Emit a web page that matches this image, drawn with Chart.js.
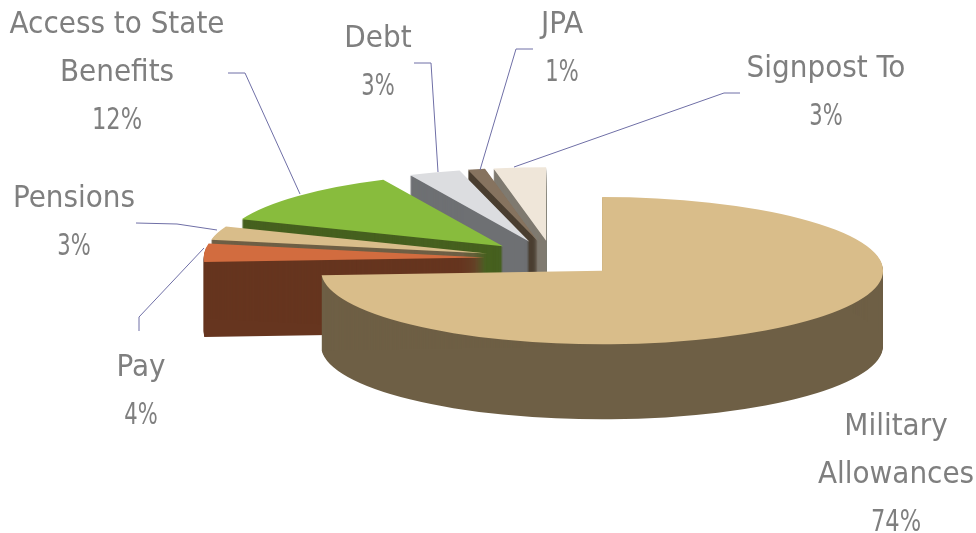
<!DOCTYPE html>
<html>
<head>
<meta charset="utf-8">
<title>Casework by category</title>
<style>
  html, body { margin: 0; padding: 0; background: #fff; }
  canvas { display: block; }
</style>
<script src="https://cdn.jsdelivr.net/npm/chart.js@4"></script>
</head>
<body>
<canvas id="casePie" width="976" height="533"></canvas>
<script>
var categories = ["Military Allowances", "Pay", "Pensions", "Access to State Benefits", "Debt", "JPA", "Signpost To"];
var shares = [74, 4, 3, 12, 3, 1, 3];
var topColors = ["#d9bd8a", "#d26c3f", "#d9bd8a", "#88bc3d", "#dcdde0", "#86735f", "#efe6d9"];
var wallColors = ["#6e5f45", "#66351f", "#6e5f45", "#46601f", "#6e7073", "#4a3e30", "#7f7a70"];

// label blocks: wrapped lines, centre x, first baseline
var labelLines = [["Military", "Allowances"], ["Pay"], ["Pensions"], ["Access to State", "Benefits"], ["Debt"], ["JPA"], ["Signpost To"]];
var labelX = [896, 141, 74, 117, 378, 562, 826];
var labelY = [435, 376, 207, 33, 47, 33, 77];
var lineGap = 48;

// elbow leader lines, no leader on the big slice
var leaders = [
    null,
    [[139, 331], [139, 317], [204, 248]],
    [[136, 223], [177, 224], [217, 230]],
    [[228, 73], [245, 73], [300, 194]],
    [[414, 63], [431, 63], [438, 172]],
    [[533, 49], [516, 49], [480, 170]],
    [[740, 93], [724, 93], [514, 167]]
];

var tilt = 0.262;     // ellipse squash
var depth = 75;       // height of the extrusion
var explode = 68;     // how far each slice is pulled out

// paints the arcs as extruded wedges, back slices first
var pie3d = {
    id: "pie3d",
    beforeDatasetsDraw: function(chart) {
        var ctx = chart.ctx;
        var arcs = chart.getDatasetMeta(0).data;

        function drawArc(arc, color, dy) {
            var mid = (arc.startAngle + arc.endAngle) / 2;
            var saved = arc.options;
            arc.options = Object.assign({}, saved, { backgroundColor: color });
            ctx.save();
            ctx.translate(0, arc.y * (1 - tilt) + dy);
            ctx.scale(1, tilt);
            ctx.translate(Math.cos(mid) * explode, Math.sin(mid) * explode);
            arc.draw(ctx);
            ctx.restore();
            arc.options = saved;
        }

        for (var i = arcs.length - 1; i >= 0; i--) {
            // top down, so the soft edge of one layer is covered by the next
            for (var dy = 1; dy <= depth; dy++) {
                drawArc(arcs[i], wallColors[i], dy);
            }
            drawArc(arcs[i], topColors[i], 0);
        }
        return false;
    },
    // returning false above skips the datasets hooks, so the text goes on here
    afterDraw: function(chart) {
        var ctx = chart.ctx;
        ctx.save();
        ctx.strokeStyle = "#6f6fa6";
        ctx.lineWidth = 1;
        leaders.forEach(function(pts) {
            if (!pts) return;
            ctx.beginPath();
            pts.forEach(function(p, n) {
                if (n === 0) ctx.moveTo(p[0], p[1]);
                else ctx.lineTo(p[0], p[1]);
            });
            ctx.stroke();
        });

        ctx.fillStyle = "#7f7f7f";
        ctx.font = '31px "DejaVu Sans Condensed"';
        ctx.textAlign = "center";
        ctx.textBaseline = "alphabetic";
        categories.forEach(function(name, i) {
            var baseline = labelY[i];
            labelLines[i].forEach(function(text) {
                ctx.fillText(text, labelX[i], baseline);
                baseline += lineGap;
            });
            // the percent line runs narrower than the names
            var pct = shares[i] + "%";
            ctx.fillText(pct, labelX[i], baseline, pct.length * 16.7);
        });
        ctx.restore();
    }
};

new Chart(document.getElementById("casePie").getContext("2d"), {
    type: "pie",
    data: {
        labels: categories,
        datasets: [{
            data: shares,
            backgroundColor: topColors,
            borderWidth: 0,
            radius: 281
        }]
    },
    options: {
        responsive: false,
        animation: false,
        layout: { padding: { left: 129, bottom: 16 } },
        plugins: {
            legend: { display: false },
            tooltip: { enabled: false }
        }
    },
    plugins: [pie3d]
});
</script>
</body>
</html>
